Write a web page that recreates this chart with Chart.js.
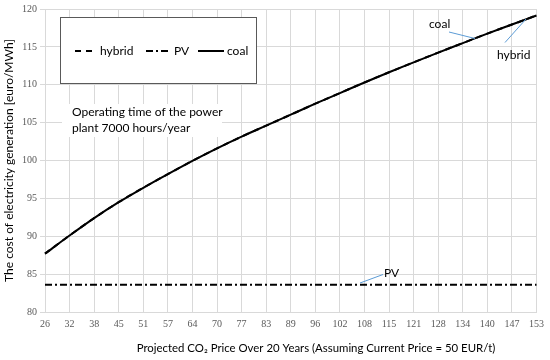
<!DOCTYPE html>
<html>
<head>
<meta charset="utf-8">
<script src="https://cdn.jsdelivr.net/npm/chart.js@4.4.1/dist/chart.umd.min.js"></script>
<style>
  html, body { margin: 0; padding: 0; background: #fff; }
  #wrap { width: 550px; height: 360px; }
</style>
</head>
<body>
<div id="wrap"><canvas id="costChart"></canvas></div>
<script>
const co2Prices = ['26', '32', '38', '45', '51', '57', '64', '70', '77', '83', '89',
                   '96', '102', '108', '115', '121', '128', '134', '140', '147', '153'];
const coalCost = [87.7, 90.1, 92.4, 94.5, 96.4, 98.2, 99.95, 101.6, 103.15, 104.6, 106.05,
                  107.5, 108.9, 110.3, 111.65, 112.95, 114.25, 115.5, 116.75, 117.95, 119.15];
const hybridCost = [87.7, 90.1, 92.4, 94.5, 96.4, 98.2, 99.95, 101.6, 103.15, 104.6, 106.05,
                    107.5, 108.9, 110.3, 111.65, 112.95, 114.25, 115.5, 116.75, 117.95, 119.15];
const pvCost = [83.6, 83.6, 83.6, 83.6, 83.6, 83.6, 83.6, 83.6, 83.6, 83.6, 83.6,
                83.6, 83.6, 83.6, 83.6, 83.6, 83.6, 83.6, 83.6, 83.6, 83.6];

const labelFont = 'Lato, "Open Sans", sans-serif';

// legend box, notes, leader lines and x title drawn on top of the grid
const overlay = {
  id: 'overlay',
  afterDraw(chart) {
    const ctx = chart.ctx;
    ctx.save();

    // legend box
    ctx.fillStyle = '#fff';
    ctx.fillRect(61, 17, 196, 66);
    ctx.strokeStyle = '#595959';
    ctx.lineWidth = 1;
    ctx.strokeRect(60.5, 17.5, 196, 66);

    const items = [
      { ds: chart.data.datasets[0], x0: 75, x1: 97 },
      { ds: chart.data.datasets[1], x0: 146, x1: 171 },
      { ds: chart.data.datasets[2], x0: 198, x1: 224 }
    ];
    ctx.font = '12px ' + labelFont;
    ctx.textBaseline = 'middle';
    items.forEach(it => {
      ctx.beginPath();
      ctx.setLineDash(it.ds.legendDash || []);
      ctx.strokeStyle = '#000';
      ctx.lineWidth = 2;
      ctx.moveTo(it.x0, 51);
      ctx.lineTo(it.x1, 51);
      ctx.stroke();
      ctx.setLineDash([]);
      ctx.fillStyle = '#000';
      ctx.fillText(it.ds.label, it.x1 + 3, 51);
    });

    // note with white background
    ctx.fillStyle = '#fff';
    ctx.fillRect(62, 104, 160, 33);
    ctx.fillStyle = '#000';
    ctx.fillText('Operating time of the power', 72, 112);
    ctx.fillText('plant 7000 hours/year', 72, 128);

    // leader lines
    ctx.strokeStyle = '#5b9bd5';
    ctx.lineWidth = 1;
    [[449, 32, 475, 38.5], [505, 42.5, 526, 19], [360, 283, 383, 274.5]].forEach(l => {
      ctx.beginPath();
      ctx.moveTo(l[0], l[1]);
      ctx.lineTo(l[2], l[3]);
      ctx.stroke();
    });
    ctx.fillStyle = '#000';
    ctx.fillText('coal', 429, 24);
    ctx.fillText('hybrid', 497, 55);
    ctx.fillText('PV', 384, 273);

    // x axis title
    ctx.font = '11.4px ' + labelFont;
    ctx.textAlign = 'center';
    ctx.fillText('Projected CO\u2082 Price Over 20 Years (Assuming Current Price = 50 EUR/t)', 316, 348);
    ctx.restore();
  }
};

new Chart(document.getElementById('costChart'), {
  type: 'line',
  data: {
    labels: co2Prices,
    datasets: [{
      label: 'hybrid',
      data: hybridCost,
      borderColor: '#000',
      borderWidth: 2,
      borderDash: [6, 5],
      legendDash: [6, 5],
      order: 3
    }, {
      label: 'PV',
      data: pvCost,
      borderColor: '#000',
      borderWidth: 2,
      borderDash: [7, 3, 2, 3],
      legendDash: [7, 3, 2, 3],
      order: 2
    }, {
      label: 'coal',
      data: coalCost,
      borderColor: '#000',
      borderWidth: 2,
      order: 1
    }]
  },
  options: {
    responsive: true,
    maintainAspectRatio: false,
    animation: false,
    layout: { padding: { top: 9, right: 11, left: 0, bottom: 0 } },
    elements: { point: { radius: 0 }, line: { cubicInterpolationMode: 'monotone' } },
    plugins: {
      legend: { display: false },
      tooltip: { enabled: false }
    },
    scales: {
      x: {
        offset: false,
        afterFit: s => { s.height = 48; },
        grid: { color: '#d9d9d9', drawTicks: false },
        border: { color: '#d9d9d9' },
        ticks: {
          color: '#595959',
          font: { family: '"Liberation Serif", serif', size: 10 },
          padding: 6,
          maxRotation: 0,
          autoSkip: false
        }
      },
      y: {
        min: 80,
        max: 120,
        afterFit: s => { s.width = 45; },
        grid: { color: '#d9d9d9', tickLength: 5 },
        border: { color: '#d9d9d9' },
        ticks: {
          stepSize: 5,
          color: '#595959',
          font: { family: '"Liberation Serif", serif', size: 10 },
          padding: 3
        },
        title: {
          display: true,
          text: 'The cost of electricity generation [euro/MWh]',
          color: '#000',
          font: { family: labelFont, size: 12 },
          padding: { top: 2, bottom: 0 }
        }
      }
    }
  },
  plugins: [overlay]
});
</script>
</body>
</html>
